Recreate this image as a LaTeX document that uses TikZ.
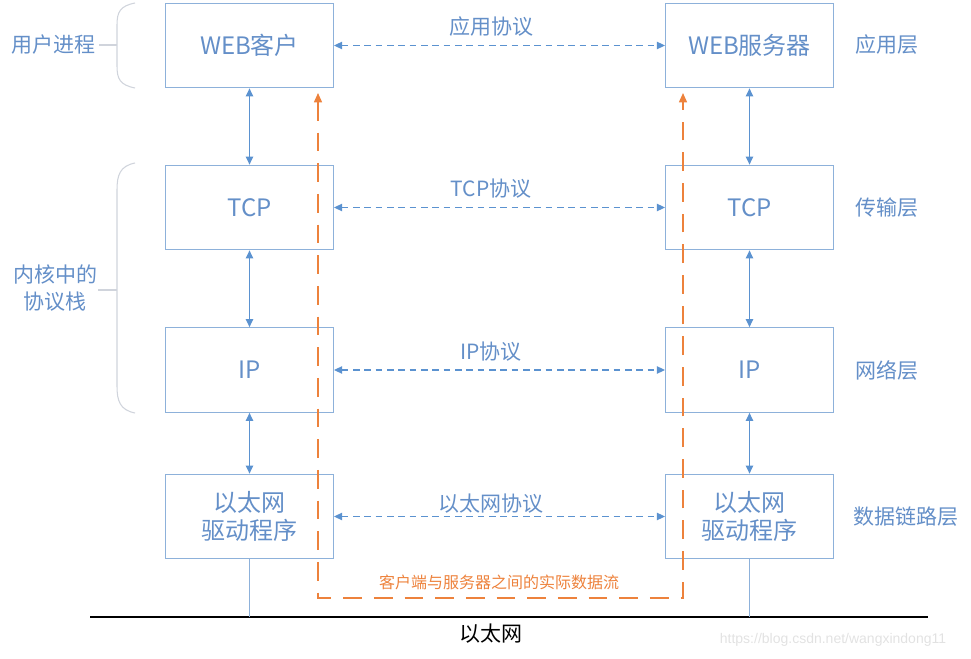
\documentclass[tikz,border=0pt]{standalone}
\usepackage{fontspec}
\setmainfont{Noto Sans CJK SC}
\newfontfamily\wmfont{Liberation Sans}
\usetikzlibrary{arrows.meta}
\definecolor{boxline}{RGB}{141,177,218}
\definecolor{txtblue}{RGB}{100,143,200}
\definecolor{arrblue}{RGB}{91,146,208}
\definecolor{orng}{RGB}{237,130,60}
\definecolor{bracegray}{RGB}{208,212,220}
\definecolor{wmgray}{RGB}{226,226,226}
\begin{document}
\begin{tikzpicture}[x=0.75pt,y=-0.75pt,
  layerbox/.style={draw=boxline,line width=0.8pt,minimum width=126pt,minimum height=63.5pt,text=txtblue,font=\fontsize{18}{21}\selectfont,align=center,inner sep=0pt},
  lbl/.style={text=txtblue,font=\fontsize{15.75}{20}\selectfont,align=center,inner sep=0pt},
  vlink/.style={draw=arrblue,line width=0.9pt,{Triangle[length=6pt,width=5.5pt]}-{Triangle[length=6pt,width=5.5pt]}},
  hlink/.style={draw=arrblue,line width=0.9pt,dash pattern=on 5pt off 3.5pt,{Triangle[length=6pt,width=5.5pt]}-{Triangle[length=6pt,width=5.5pt]}},
  flow/.style={draw=orng,line width=1.1pt,dash pattern=on 14pt off 9pt,{Triangle[length=7pt,width=6pt]}-{Triangle[length=7pt,width=6pt]}},
  bracket/.style={draw=bracegray,line width=0.8pt},
  wire/.style={draw=boxline,line width=0.8pt}
]
\useasboundingbox (0,0) rectangle (971,659);

% boxes
\node[layerbox] (webc) at (249.5,45.5) {WEB客户};
\node[layerbox] (tcpc) at (249.5,207.5) {TCP};
\node[layerbox] (ipc)  at (249.5,370) {IP};
\node[layerbox] (drvc) at (249.5,516.5) {以太网\\驱动程序};
\node[layerbox] (webs) at (749.5,45.5) {WEB服务器};
\node[layerbox] (tcps) at (749.5,207.5) {TCP};
\node[layerbox] (ips)  at (749.5,370) {IP};
\node[layerbox] (drvs) at (749.5,516.5) {以太网\\驱动程序};

% vertical links
\draw[vlink] (webc.south) -- (tcpc.north);
\draw[vlink] (tcpc.south) -- (ipc.north);
\draw[vlink] (ipc.south) -- (drvc.north);
\draw[vlink] (webs.south) -- (tcps.north);
\draw[vlink] (tcps.south) -- (ips.north);
\draw[vlink] (ips.south) -- (drvs.north);

% horizontal protocol links
\draw[hlink] (webc.east) -- (webs.west);
\draw[hlink] (tcpc.east) -- (tcps.west);
\draw[hlink] (ipc.east) -- (ips.west);
\draw[hlink] (drvc.east) -- (drvs.west);
\node[lbl] (p1) at (491,27) {应用协议};
\node[lbl] (p2) at (491,189) {TCP协议};
\node[lbl] (p3) at (491,352) {IP协议};
\node[lbl] (p4) at (491,504) {以太网协议};

% ethernet
\coordinate (ethL) at (90,617);
\coordinate (ethR) at (928,617);
\draw[black,line width=2.2pt] (ethL) -- (ethR);
\draw[wire] (drvc.south) -- (drvc.south |- ethL);
\draw[wire] (drvs.south) -- (drvs.south |- ethL);
\node[text=black,font=\fontsize{15.75}{20}\selectfont,inner sep=0pt] (eth) at (491,634) {以太网};

% actual data flow
\coordinate (fL) at (318,93);
\coordinate (fLB) at (318,598);
\coordinate (fRB) at (683,598);
\coordinate (fR) at (683,93);
\draw[flow] (fL) -- (fLB) -- (fRB) -- (fR);
\node[text=orng,font=\fontsize{12}{15}\selectfont,inner sep=0pt] (flowlbl) at (499,582) {客户端与服务器之间的实际数据流};

% layer names
\node[lbl] (l1) at (887,45) {应用层};
\node[lbl] (l2) at (887,208) {传输层};
\node[lbl] (l3) at (887,370) {网络层};
\node[lbl] (l4) at (906,517) {数据链路层};

% left labels and brackets
\node[lbl] (user) at (54,45) {用户进程};
\node[lbl] (kern) at (55,288) {内核中的\\协议栈};
\coordinate (b1) at (117,45);
\coordinate (b2) at (117,290);
\coordinate (k1) at (98,290);
\coordinate (u1) at (99,45);
\draw[bracket] (135,3) .. controls (120,6) and (117,12) .. (117,25) -- (117,66) .. controls (117,79) and (120,85) .. (135,88);
\draw[bracket] (135,163) .. controls (120,166) and (117,175) .. (117,190) -- (117,386) .. controls (117,401) and (120,410) .. (135,413);
\draw[bracket] (u1) -- (b1);
\draw[bracket] (k1) -- (b2);

% watermark
\node[text=wmgray,font=\wmfont\fontsize{10.5}{12}\selectfont,inner sep=0pt] (wm) at (833,640) {https://blog.csdn.net/wangxindong11};
\end{tikzpicture}
\end{document}
